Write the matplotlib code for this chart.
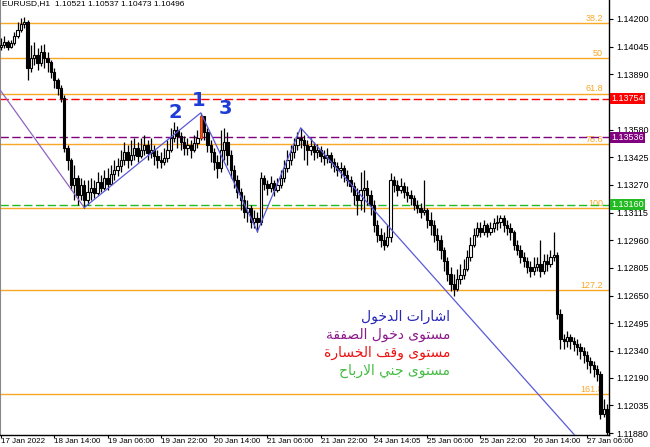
import numpy as np
import matplotlib
matplotlib.use('Agg')
import matplotlib.pyplot as plt
import matplotlib.transforms as mtransforms

plt.rcParams['font.family'] = ['Liberation Sans', 'DejaVu Sans']

# EURUSD H1 candles
open0 = 1.14043
closes = [1.14054, 1.14071, 1.14043, 1.14066, 1.14105, 1.14138, 1.14172, 1.14183, 1.13926, 1.13982,
          1.13999, 1.13954, 1.14015, 1.13982, 1.13959, 1.13904, 1.13859, 1.13814, 1.13758, 1.13479,
          1.13412, 1.13272, 1.13311, 1.13216, 1.13272, 1.13188, 1.13233, 1.13255, 1.13227, 1.13289,
          1.13255, 1.13311, 1.13277, 1.13333, 1.13356, 1.13378, 1.13412, 1.13456, 1.13412, 1.13440,
          1.13479, 1.13434, 1.13467, 1.13495, 1.13451, 1.13467, 1.13434, 1.13412, 1.13400, 1.13423,
          1.13467, 1.13535, 1.13579, 1.13546, 1.13512, 1.13479, 1.13495, 1.13467, 1.13507, 1.13535,
          1.13658, 1.13568, 1.13495, 1.13456, 1.13400, 1.13367, 1.13467, 1.13512, 1.13440, 1.13356,
          1.13300, 1.13233, 1.13188, 1.13121, 1.13143, 1.13065, 1.13087, 1.13065, 1.13311, 1.13277,
          1.13255, 1.13283, 1.13244, 1.13272, 1.13311, 1.13367, 1.13412, 1.13456, 1.13495, 1.13535,
          1.13523, 1.13495, 1.13467, 1.13490, 1.13456, 1.13467, 1.13434, 1.13423, 1.13440, 1.13400,
          1.13378, 1.13356, 1.13367, 1.13328, 1.13300, 1.13266, 1.13216, 1.13188, 1.13244, 1.13255,
          1.13216, 1.13160, 1.13048, 1.12992, 1.12964, 1.12936, 1.12976, 1.13300, 1.13272, 1.13244,
          1.13266, 1.13233, 1.13216, 1.13199, 1.13160, 1.13143, 1.13121, 1.13132, 1.13076, 1.13048,
          1.12992, 1.12964, 1.12908, 1.12841, 1.12769, 1.12713, 1.12685, 1.12741, 1.12763, 1.12797,
          1.12864, 1.12936, 1.12992, 1.13031, 1.13009, 1.13043, 1.13009, 1.13031, 1.13054, 1.13065,
          1.13087, 1.13048, 1.13031, 1.13009, 1.12936, 1.12908, 1.12864, 1.12841, 1.12808, 1.12786,
          1.12808, 1.12825, 1.12786, 1.12841, 1.12825, 1.12864, 1.12875, 1.12545, 1.12405, 1.12394,
          1.12417, 1.12394, 1.12377, 1.12361, 1.12338, 1.12316, 1.12282, 1.12260, 1.12238, 1.12210,
          1.11986, 1.12014, 1.11886]
highs = [1.14094, 1.14105, 1.14082, 1.14082, 1.14127, 1.14183, 1.14205, 1.14211, 1.14194, 1.14054,
         1.14071, 1.14038, 1.14054, 1.14060, 1.14015, 1.13971, 1.13926, 1.13870, 1.13831, 1.13775,
         1.13495, 1.13423, 1.13384, 1.13328, 1.13311, 1.13300, 1.13300, 1.13311, 1.13300, 1.13345,
         1.13328, 1.13356, 1.13367, 1.13384, 1.13412, 1.13423, 1.13467, 1.13512, 1.13495, 1.13523,
         1.13535, 1.13512, 1.13535, 1.13551, 1.13523, 1.13535, 1.13495, 1.13467, 1.13456, 1.13479,
         1.13523, 1.13590, 1.13624, 1.13602, 1.13568, 1.13546, 1.13535, 1.13523, 1.13551, 1.13579,
         1.13674, 1.13658, 1.13590, 1.13523, 1.13479, 1.13440, 1.13579, 1.13590, 1.13568, 1.13467,
         1.13384, 1.13328, 1.13255, 1.13216, 1.13188, 1.13160, 1.13132, 1.13121, 1.13345, 1.13328,
         1.13300, 1.13322, 1.13300, 1.13311, 1.13356, 1.13412, 1.13467, 1.13495, 1.13535, 1.13568,
         1.13590, 1.13551, 1.13523, 1.13535, 1.13512, 1.13501, 1.13490, 1.13467, 1.13479, 1.13456,
         1.13423, 1.13400, 1.13400, 1.13384, 1.13356, 1.13322, 1.13289, 1.13255, 1.13345, 1.13356,
         1.13300, 1.13244, 1.13188, 1.13076, 1.13031, 1.13009, 1.13048, 1.13339, 1.13322, 1.13300,
         1.13311, 1.13289, 1.13266, 1.13244, 1.13216, 1.13188, 1.13166, 1.13300, 1.13143, 1.13121,
         1.13076, 1.13031, 1.12992, 1.12920, 1.12864, 1.12808, 1.12769, 1.12797, 1.12825, 1.12853,
         1.12908, 1.12976, 1.13031, 1.13065, 1.13065, 1.13076, 1.13054, 1.13065, 1.13087, 1.13099,
         1.13104, 1.13104, 1.13076, 1.13054, 1.13020, 1.12964, 1.12931, 1.12897, 1.12864, 1.12841,
         1.12864, 1.12864, 1.12964, 1.12881, 1.12881, 1.12908, 1.13004, 1.12897, 1.12573, 1.12433,
         1.12450, 1.12433, 1.12417, 1.12405, 1.12383, 1.12361, 1.12338, 1.12305, 1.12282, 1.12260,
         1.12227, 1.12070, 1.12042]
lows = [1.14026, 1.14038, 1.14026, 1.14038, 1.14054, 1.14094, 1.14127, 1.14149, 1.13859, 1.13904,
        1.13943, 1.13915, 1.13937, 1.13926, 1.13904, 1.13870, 1.13814, 1.13775, 1.13736, 1.13456,
        1.13356, 1.13244, 1.13188, 1.13160, 1.13188, 1.13143, 1.13160, 1.13188, 1.13199, 1.13216,
        1.13233, 1.13244, 1.13244, 1.13272, 1.13300, 1.13322, 1.13345, 1.13384, 1.13367, 1.13384,
        1.13412, 1.13400, 1.13423, 1.13440, 1.13412, 1.13423, 1.13384, 1.13367, 1.13367, 1.13384,
        1.13400, 1.13456, 1.13512, 1.13479, 1.13467, 1.13440, 1.13440, 1.13423, 1.13456, 1.13479,
        1.13523, 1.13523, 1.13456, 1.13400, 1.13356, 1.13311, 1.13345, 1.13412, 1.13384, 1.13311,
        1.13255, 1.13199, 1.13132, 1.13087, 1.13065, 1.13031, 1.13031, 1.13009, 1.13048, 1.13244,
        1.13216, 1.13233, 1.13210, 1.13233, 1.13255, 1.13289, 1.13345, 1.13384, 1.13423, 1.13467,
        1.13479, 1.13412, 1.13384, 1.13440, 1.13412, 1.13423, 1.13400, 1.13384, 1.13395, 1.13367,
        1.13345, 1.13322, 1.13311, 1.13289, 1.13266, 1.13233, 1.13160, 1.13104, 1.13132, 1.13121,
        1.13160, 1.13104, 1.13009, 1.12953, 1.12920, 1.12908, 1.12920, 1.12953, 1.13233, 1.13210,
        1.13222, 1.13199, 1.13177, 1.13160, 1.13132, 1.13110, 1.13087, 1.13099, 1.13031, 1.12992,
        1.12953, 1.12908, 1.12853, 1.12786, 1.12730, 1.12674, 1.12646, 1.12674, 1.12713, 1.12741,
        1.12786, 1.12841, 1.12920, 1.12976, 1.12976, 1.12992, 1.12976, 1.12992, 1.13009, 1.13020,
        1.13031, 1.13009, 1.12992, 1.12964, 1.12908, 1.12875, 1.12830, 1.12808, 1.12774, 1.12752,
        1.12763, 1.12786, 1.12752, 1.12769, 1.12786, 1.12808, 1.12841, 1.12517, 1.12349, 1.12349,
        1.12361, 1.12349, 1.12338, 1.12316, 1.12294, 1.12271, 1.12238, 1.12215, 1.12193, 1.12171,
        1.11958, 1.11969, 1.11869]
signal_bar = 60

# levels
fib_names = ['38.2', '50', '61.8', '78.6', '100', '127.2', '161.8']
fib_prices = [1.14177, 1.13979, 1.13781, 1.13498, 1.13138, 1.12681, 1.12098]
entry_price = 1.13536
stop_price = 1.13754
target_price = 1.13160

# zigzag
zz_bars = [-3, 25, 60, 77, 90, 180]
zz_prices = [1.13873, 1.13143, 1.13674, 1.13009, 1.13590, 1.11707]

# axis labels (1.13735 sits under the red tag in the original, so it is left out)
price_ticks = [1.14200, 1.14045, 1.13890, 1.13580, 1.13425, 1.13270, 1.13115,
               1.12960, 1.12805, 1.12650, 1.12495, 1.12340, 1.12190, 1.12035, 1.11880]
time_ticks = [0, 16, 32, 48, 64, 80, 96, 112, 128, 144, 160, 176]
time_labels = ['17 Jan 2022', '18 Jan 14:00', '19 Jan 06:00', '19 Jan 22:00', '20 Jan 14:00',
               '21 Jan 06:00', '21 Jan 22:00', '24 Jan 14:05', '25 Jan 06:00', '25 Jan 22:00',
               '26 Jan 14:00', '27 Jan 06:00']
title = 'EURUSD,H1  1.10521 1.10537 1.10473 1.10496'

legend_lines = ['اشارات الدخول', 'مستوى دخول الصفقة', 'مستوى وقف الخسارة', 'مستوى جني الارباح']
legend_colors = ['#2626b4', '#8b1a8b', '#ee1111', '#44bb44']


# matplotlib has no arabic shaping, so pick the joined glyph forms by hand
FORMS = {
    'ا': (0xFE8D, 0xFE8E, None, None), 'ب': (0xFE8F, 0xFE90, 0xFE91, 0xFE92),
    'ت': (0xFE95, 0xFE96, 0xFE97, 0xFE98), 'ج': (0xFE9D, 0xFE9E, 0xFE9F, 0xFEA0),
    'ح': (0xFEA1, 0xFEA2, 0xFEA3, 0xFEA4), 'خ': (0xFEA5, 0xFEA6, 0xFEA7, 0xFEA8),
    'د': (0xFEA9, 0xFEAA, None, None), 'ر': (0xFEAD, 0xFEAE, None, None),
    'س': (0xFEB1, 0xFEB2, 0xFEB3, 0xFEB4), 'ش': (0xFEB5, 0xFEB6, 0xFEB7, 0xFEB8),
    'ص': (0xFEB9, 0xFEBA, 0xFEBB, 0xFEBC), 'ف': (0xFED1, 0xFED2, 0xFED3, 0xFED4),
    'ق': (0xFED5, 0xFED6, 0xFED7, 0xFED8), 'ل': (0xFEDD, 0xFEDE, 0xFEDF, 0xFEE0),
    'م': (0xFEE1, 0xFEE2, 0xFEE3, 0xFEE4), 'ن': (0xFEE5, 0xFEE6, 0xFEE7, 0xFEE8),
    'ة': (0xFE93, 0xFE94, None, None), 'و': (0xFEED, 0xFEEE, None, None),
    'ى': (0xFEEF, 0xFEF0, None, None), 'ي': (0xFEF1, 0xFEF2, 0xFEF3, 0xFEF4),
}


def shape_arabic(text):
    out = []
    i = 0
    while i < len(text):
        c = text[i]
        if c not in FORMS:
            out.append(c)
            i += 1
            continue
        prev = text[i - 1] if i > 0 else ' '
        prev_joins = prev in FORMS and FORMS[prev][2] is not None
        nxt = text[i + 1] if i + 1 < len(text) else ' '
        if c == 'ل' and nxt == 'ا':
            out.append(chr(0xFEFC if prev_joins else 0xFEFB))
            i += 2
            continue
        next_joins = FORMS[c][2] is not None and nxt in FORMS
        f = FORMS[c]
        if prev_joins and next_joins:
            out.append(chr(f[3]))
        elif prev_joins:
            out.append(chr(f[1]))
        elif next_joins:
            out.append(chr(f[2]))
        else:
            out.append(chr(f[0]))
        i += 1
    return ''.join(out)[::-1]


fig = plt.figure(figsize=(6.5, 4.47), dpi=100)
ax = fig.add_axes([0, 12 / 447, 609 / 650, 435 / 447])

n = len(closes)
x = np.arange(n)
c = np.array(closes)
o = np.array([open0] + closes[:-1])
h = np.maximum(np.array(highs), np.maximum(o, c))
l = np.minimum(np.array(lows), np.minimum(o, c))

tr = mtransforms.blended_transform_factory(ax.transAxes, ax.transData)

orange = '#f9a825'
for name, p in zip(fib_names, fib_prices):
    ax.axhline(p, color=orange, lw=1.0, zorder=1)
    ax.text(0.99, p + 0.00002, name, transform=tr, ha='right', va='bottom',
            fontsize=6.5, color=orange, zorder=1)

ax.axhline(stop_price, color='#ff0000', lw=1, ls=(0, (6, 2.5)), zorder=1)
ax.axhline(entry_price, color='#800080', lw=1, ls=(0, (6, 2.5)), zorder=1)
ax.axhline(target_price, color='#22bb22', lw=1, ls=(0, (6, 2.5)), zorder=1)

# candles
ax.vlines(x, l, h, color='black', lw=0.9, zorder=3)
face = ['white' if c[i] > o[i] else 'black' for i in range(n)]
face[signal_bar] = '#ff5a14'
edge = ['black'] * n
edge[signal_bar] = '#c83c10'
ax.bar(x, np.maximum(np.abs(c - o), 0.00003), bottom=np.minimum(o, c), width=0.7,
       color=face, edgecolor=edge, linewidth=0.8, zorder=4)

# zigzag
ax.plot(zz_bars[:2], zz_prices[:2], color='#9064c0', lw=0.9, zorder=5)
ax.plot(zz_bars[1:], zz_prices[1:], color='#5a5ad8', lw=0.9, zorder=5)

for label, px, py in [('2', 175, 113), ('1', 199, 101), ('3', 225, 109)]:
    ax.text(px / 609, 1 - py / 435, label, transform=ax.transAxes, ha='center', va='center',
            fontsize=14, fontweight='bold', color='#1e3cd6', family='DejaVu Sans', zorder=6)

for k, (txt, col) in enumerate(zip(legend_lines, legend_colors)):
    ax.text(450 / 609, 1 - (317 + 18 * k) / 435, shape_arabic(txt), transform=ax.transAxes,
            ha='right', va='center', fontsize=10, color=col, family='DejaVu Sans', zorder=7)

ax.text(0.004, 1.0, title, transform=ax.transAxes, ha='left', va='top', fontsize=6, color='black', zorder=8)

# price tags on the right
for p, col in [(stop_price, '#ff0000'), (entry_price, '#800080'), (target_price, '#22bb22')]:
    ax.text(1.004, p, '%.5f' % p, transform=tr, ha='left', va='center', fontsize=6.5, color='white',
            bbox=dict(boxstyle='square,pad=0.15', fc=col, ec='none'), clip_on=False, zorder=10)

ax.set_xlim(-0.3, 182.6)
ax.set_ylim(1.11869, 1.14306)
ax.yaxis.tick_right()
ax.set_yticks(price_ticks)
ax.set_yticklabels(['%.5f' % p for p in price_ticks])
ax.set_xticks(time_ticks)
ax.set_xticklabels(time_labels)
for lab in ax.get_xticklabels():
    lab.set_horizontalalignment('left')
ax.tick_params(axis='y', direction='out', length=3, labelsize=6.5, pad=2, width=0.8)
ax.tick_params(axis='x', direction='out', length=2, labelsize=5.8, pad=0.5, width=0.8)
ax.spines['top'].set_visible(False)
ax.spines['left'].set_color('#888888')
ax.spines['right'].set_linewidth(1)
ax.spines['bottom'].set_linewidth(1)

fig.savefig('out.png', dpi=100, facecolor='white')
